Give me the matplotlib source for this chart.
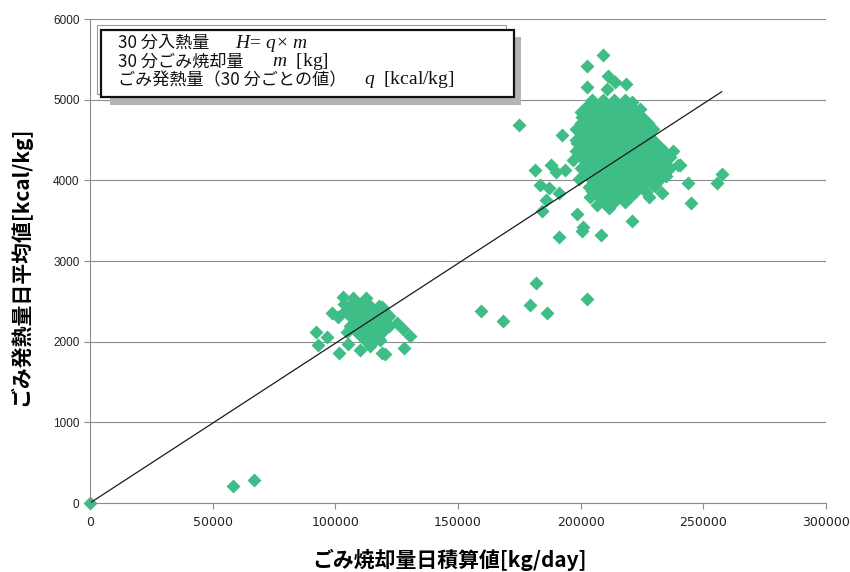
import matplotlib
matplotlib.use("Agg")
import matplotlib.pyplot as plt
from matplotlib.patches import Rectangle
import numpy as np

plt.rcParams["font.family"] = ["Noto Sans CJK JP", "DejaVu Sans"]
plt.rcParams["mathtext.fontset"] = "custom"
plt.rcParams["mathtext.rm"] = "Liberation Serif"
plt.rcParams["mathtext.it"] = "Liberation Serif:italic"

# daily incinerated waste [kg/day] vs daily mean heat value [kcal/kg]
outlier_x = [0, 58300, 66800, 159200, 168500, 179300, 181800, 186100, 202700]
outlier_y = [0, 210, 285, 2383, 2260, 2453, 2730, 2358, 2531]

# small cluster (~110 t/day): scattered edge points
low_edge_x = [103000, 107300, 112400, 98500, 92100, 96700, 93100, 101600, 105000, 110000,
              114100, 118900, 120200, 128000, 130400, 127400, 125000, 121600, 118900, 103500,
              101200, 104600, 118200]
low_edge_y = [2556, 2536, 2536, 2350, 2123, 2061, 1958, 1862, 1970, 1896,
              1946, 1862, 1846, 1924, 2069, 2152, 2234, 2329, 2432, 2466,
              2308, 2123, 2017]

# small cluster core, row by row
low_rows = {
    2500: [108000, 112000],
    2440: [106000, 110000, 114000, 118000],
    2380: [104000, 108000, 112000, 116000, 120000],
    2320: [106000, 110000, 114000, 118000, 122000],
    2260: [108000, 112000, 116000, 120000],
    2200: [106000, 110000, 114000, 118000, 122000],
    2140: [108000, 112000, 116000, 120000],
    2080: [110000, 114000, 118000],
    2020: [112000, 116000],
}

# large cluster (~215 t/day): scattered edge points
high_edge_x = [181400, 183400, 187200, 185900, 184100, 191200, 198400, 200800, 191200, 200400,
               208400, 187800, 190000, 193600, 175000, 202700, 209200, 202400, 192300, 211300,
               214000, 218500, 210600, 220800, 219300, 257500, 255400, 244800, 220800, 233000,
               243900, 240500, 228000, 239800, 198400, 200400, 204000, 206800, 203200, 226500,
               230200, 234800, 237600, 224200, 196800, 199200]
high_edge_y = [4126, 3940, 3899, 3754, 3622, 3845, 3581, 3416, 3292, 3374,
               3317, 4188, 4105, 4134, 4692, 5414, 5551, 5158, 4568, 5290,
               5220, 5200, 5138, 4972, 4931, 4076, 3961, 3721, 3494, 3845,
               3969, 4188, 3789, 4188, 4460, 4786, 3790, 3700, 3920, 3860,
               3930, 4050, 4360, 4890, 4250, 4020]

# large cluster core, row by row
high_rows = {
    4990: [204750, 209250, 213750, 218250],
    4920: [202500, 207000, 211500, 216000, 220500],
    4850: [200250, 204750, 209250, 213750, 218250, 222750],
    4780: [202500, 207000, 211500, 216000, 220500, 225000],
    4710: [200250, 204750, 209250, 213750, 218250, 222750, 227250],
    4640: [198000, 202500, 207000, 211500, 216000, 220500, 225000, 229500],
    4570: [200250, 204750, 209250, 213750, 218250, 222750, 227250],
    4500: [198000, 202500, 207000, 211500, 216000, 220500, 225000, 229500],
    4430: [200250, 204750, 209250, 213750, 218250, 222750, 227250, 231750],
    4360: [198000, 202500, 207000, 211500, 216000, 220500, 225000, 229500, 234000],
    4290: [200250, 204750, 209250, 213750, 218250, 222750, 227250, 231750, 236250],
    4220: [202500, 207000, 211500, 216000, 220500, 225000, 229500, 234000],
    4150: [200250, 204750, 209250, 213750, 218250, 222750, 227250, 231750, 236250],
    4080: [202500, 207000, 211500, 216000, 220500, 225000, 229500, 234000],
    4010: [204750, 209250, 213750, 218250, 222750, 227250, 231750],
    3940: [207000, 211500, 216000, 220500, 225000, 229500],
    3870: [204750, 209250, 213750, 218250, 222750],
    3800: [207000, 211500, 216000, 220500],
    3730: [209250, 213750, 218250],
    3660: [211500],
}

fit_slope = 0.0198  # regression through origin [kcal/kg per kg/day]

xticks = [0, 50000, 100000, 150000, 200000, 250000, 300000]
yticks = [0, 1000, 2000, 3000, 4000, 5000, 6000]


def unpack(rows):
    xs = [x for y, row in rows.items() for x in row]
    ys = [y for y, row in rows.items() for x in row]
    return xs, ys


low_x, low_y = unpack(low_rows)
high_x, high_y = unpack(high_rows)
all_x = np.array(outlier_x + low_edge_x + low_x + high_edge_x + high_x, dtype=float)
all_y = np.array(outlier_y + low_edge_y + low_y + high_edge_y + high_y, dtype=float)

W, H = 850, 572
fig = plt.figure(figsize=(W / 100, H / 100), dpi=100)


def fpos(px, py):
    return px / W, 1 - py / H


ax = fig.add_axes([90 / W, 1 - 503 / H, (826 - 90) / W, (503 - 19) / H])
ax.set_xlim(0, 300000)
ax.set_ylim(0, 6000)
ax.set_xticks(xticks)
ax.set_yticks(yticks)
ax.set_xticklabels([str(t) for t in xticks], family=["Liberation Sans Narrow", "DejaVu Sans"], fontsize=9)
ax.set_yticklabels([str(t) for t in yticks], family=["Liberation Sans", "DejaVu Sans"], fontsize=8.5)
ax.grid(axis="y", color="#8c8c8c", lw=0.8)
ax.set_axisbelow(True)
for s in ["top", "right"]:
    ax.spines[s].set_visible(False)
for s in ["left", "bottom"]:
    ax.spines[s].set_color("#8c8c8c")
ax.tick_params(axis="both", color="#8c8c8c", length=4, labelcolor="#222222")
ax.tick_params(axis="x", pad=5)

ax.plot(all_x, all_y, ls="none", marker="D", ms=7.4, color="#3fbd86", mec="none", clip_on=False)
xe = all_x.max()
ax.plot([0, xe], [0, fit_slope * xe], color="#1a1a1a", lw=0.9)

ax.set_ylabel("ごみ発熱量日平均値[kcal/kg]", fontsize=15, fontweight="bold", va="center", ha="center")
ax.yaxis.set_label_coords((20 - 90) / 736, (503 - 266) / 484)
ax.set_xlabel("ごみ焼却量日積算値[kg/day]", fontsize=15, fontweight="bold", va="center", ha="center")
ax.xaxis.set_label_coords((450 - 90) / 736, -(560 - 503) / 484)


# legend box with drop shadow
def frect(x0, y0, x1, y1, **kw):
    fx0, fy1 = fpos(x0, y0)
    fx1, fy0 = fpos(x1, y1)
    fig.add_artist(Rectangle((fx0, fy0), fx1 - fx0, fy1 - fy0, transform=fig.transFigure, **kw))


frect(97, 25, 506, 94, facecolor="white", edgecolor="#9a9a9a", lw=0.8, zorder=5)
frect(110, 37, 521, 105, facecolor="#b4b4b4", edgecolor="none", zorder=6)
frect(101, 30, 514, 97, facecolor="white", edgecolor="#111111", lw=1.6, zorder=7)

jp_lines = [("30 分入熱量", 43), ("30 分ごみ焼却量", 62), ("ごみ発熱量（30 分ごとの値）", 80)]
for s, py in jp_lines:
    fig.text(*fpos(118, py), s, fontsize=12.3, va="center", ha="left", zorder=8, color="#111111")
eq_lines = [(r"$H\!=\,q\!\times\,m$", 235, 43), (r"$m$  [kg]", 272, 62), (r"$q$  [kcal/kg]", 364, 80)]
for s, px, py in eq_lines:
    fig.text(*fpos(px, py), s, fontsize=14, va="center", ha="left", zorder=8,
             family="Liberation Serif", color="#111111")

fig.savefig("out.png", dpi=100)
